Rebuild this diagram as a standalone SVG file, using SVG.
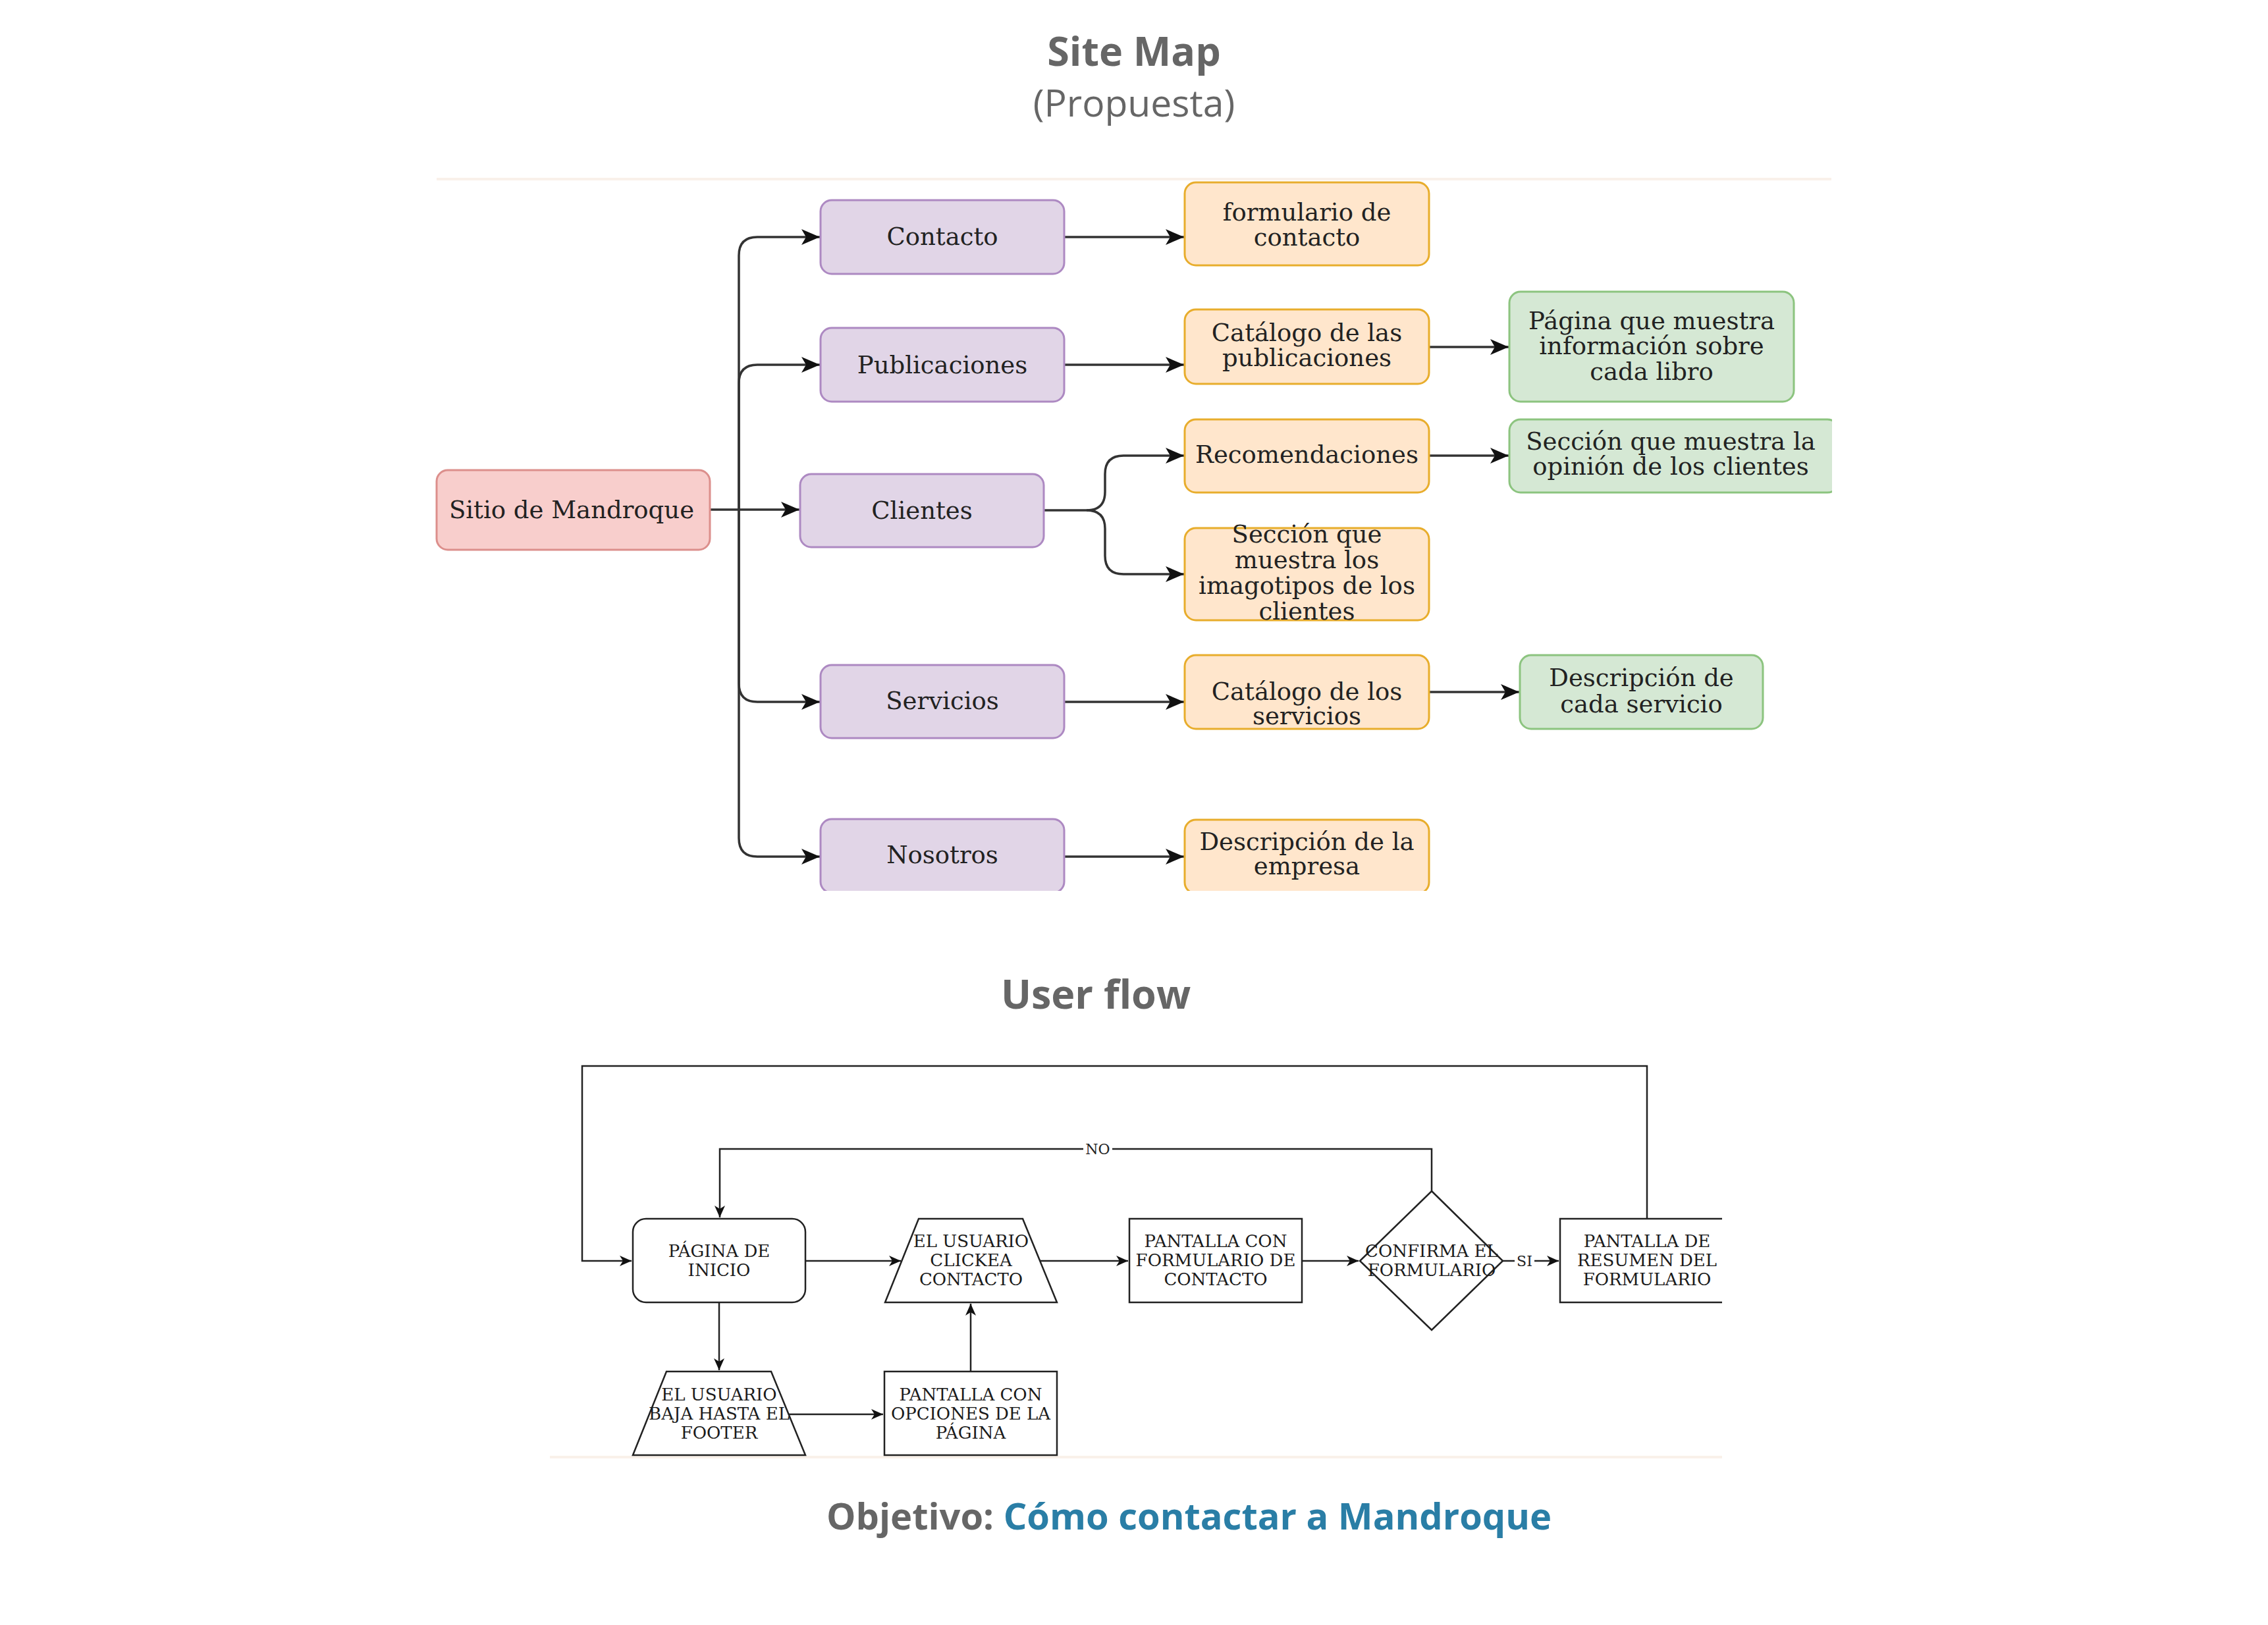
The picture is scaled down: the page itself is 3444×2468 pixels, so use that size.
<svg xmlns="http://www.w3.org/2000/svg" width="3444" height="2468" viewBox="0 0 3444 2468">
<style>
.title{font-family:"Open Sans","Noto Sans",sans-serif;font-weight:700;fill:#666;text-anchor:middle}
.sub{font-family:"Open Sans","Noto Sans",sans-serif;font-weight:400;fill:#666;text-anchor:middle;font-size:57px}
.st{font-family:"DejaVu Serif",serif;font-size:37px;fill:#222;text-anchor:middle}
.ut{font-family:"DejaVu Serif",serif;font-size:26px;fill:#1a1a1a;text-anchor:middle}
.lbl{font-family:"DejaVu Serif",serif;font-size:22px;fill:#222;text-anchor:middle}
.red{fill:#f8cecc;stroke:#dc8f8c;stroke-width:3}
.pur{fill:#e1d5e7;stroke:#ad89c2;stroke-width:3}
.org{fill:#ffe6cc;stroke:#e8ad2c;stroke-width:3}
.grn{fill:#d5e8d4;stroke:#8cc47f;stroke-width:3}
.sc{fill:none;stroke:#333;stroke-width:3.5}
.uf{fill:#fff;stroke:#222;stroke-width:2.5}
.uc{fill:none;stroke:#222;stroke-width:2.5}
.faint{fill:none;stroke:#f9f1ea;stroke-width:4}
</style>
<defs>
<marker id="as" markerUnits="userSpaceOnUse" markerWidth="32" markerHeight="28" viewBox="0 -14 32 28" refX="28" refY="0" orient="auto">
<path d="M0,-12 L28,0 L0,12 L7,0 Z" fill="#111"/>
</marker>
<marker id="au" markerUnits="userSpaceOnUse" markerWidth="22" markerHeight="20" viewBox="0 -10 22 20" refX="18" refY="0" orient="auto">
<path d="M0,-8 L18,0 L0,8 L5,0 Z" fill="#111"/>
</marker>
<clipPath id="clipSite"><rect x="660" y="268" width="2122" height="1085"/></clipPath>
<clipPath id="clipFlow"><rect x="830" y="1600" width="1785" height="613"/></clipPath>
</defs>
<rect width="3444" height="2468" fill="#fff"/>

<g id="titles">
<text class="title" x="1722" y="100" font-size="61">Site Map</text>
<text class="sub" x="1722" y="177">(Propuesta)</text>
<text class="title" x="1664" y="1532" font-size="61">User flow</text>
<text class="title" x="1255" y="2323" font-size="56" text-anchor="start" style="text-anchor:start"><tspan fill="#666">Objetivo: </tspan><tspan fill="#2a7ea6">Cómo contactar a Mandroque</tspan></text>
</g>

<path class="faint" d="M663,272 H2781"/>
<path class="faint" d="M835,2213 H2615"/>

<g id="sitemap" clip-path="url(#clipSite)">
<g id="site-connectors">
<path class="sc" d="M1078,774 H1214" marker-end="url(#as)"/>
<path class="sc" d="M1122,774 V388 Q1122,360 1150,360 H1245" marker-end="url(#as)"/>
<path class="sc" d="M1122,774 V582 Q1122,554 1150,554 H1245" marker-end="url(#as)"/>
<path class="sc" d="M1122,774 V1038 Q1122,1066 1150,1066 H1245" marker-end="url(#as)"/>
<path class="sc" d="M1122,774 V1273 Q1122,1301 1150,1301 H1245" marker-end="url(#as)"/>
<path class="sc" d="M1585,775 H1650 Q1678,775 1678,747 V720 Q1678,692 1706,692 H1798" marker-end="url(#as)"/>
<path class="sc" d="M1650,775 Q1678,775 1678,803 V844 Q1678,872 1706,872 H1798" marker-end="url(#as)"/>
<path class="sc" d="M1616,360 H1798" marker-end="url(#as)"/>
<path class="sc" d="M1616,554 H1798" marker-end="url(#as)"/>
<path class="sc" d="M2170,527 H2291" marker-end="url(#as)"/>
<path class="sc" d="M2170,692 H2291" marker-end="url(#as)"/>
<path class="sc" d="M1616,1066 H1798" marker-end="url(#as)"/>
<path class="sc" d="M2170,1051 H2307" marker-end="url(#as)"/>
<path class="sc" d="M1616,1301 H1798" marker-end="url(#as)"/>
</g>

<g id="n-sitio"><rect class="red" x="663" y="714" width="415" height="121" rx="17"/><text class="st" x="868" y="787">Sitio de Mandroque</text></g>
<g id="n-contacto"><rect class="pur" x="1246" y="304" width="370" height="112" rx="17"/><text class="st" x="1431" y="372">Contacto</text></g>
<g id="n-publicaciones"><rect class="pur" x="1246" y="498" width="370" height="112" rx="17"/><text class="st" x="1431" y="567">Publicaciones</text></g>
<g id="n-clientes"><rect class="pur" x="1215" y="720" width="370" height="111" rx="17"/><text class="st" x="1400" y="788">Clientes</text></g>
<g id="n-servicios"><rect class="pur" x="1246" y="1010" width="370" height="111" rx="17"/><text class="st" x="1431" y="1077">Servicios</text></g>
<g id="n-nosotros"><rect class="pur" x="1246" y="1244" width="370" height="112" rx="17"/><text class="st" x="1431" y="1311">Nosotros</text></g>

<g id="n-formulario"><rect class="org" x="1799" y="277" width="371" height="126" rx="17"/><text class="st" x="1984.5" y="335">formulario de</text><text class="st" x="1984.5" y="373">contacto</text></g>
<g id="n-catalogo-pub"><rect class="org" x="1799" y="470" width="371" height="113" rx="17"/><text class="st" x="1984.5" y="518">Catálogo de las</text><text class="st" x="1984.5" y="556">publicaciones</text></g>
<g id="n-recomendaciones"><rect class="org" x="1799" y="637" width="371" height="111" rx="17"/><text class="st" x="1984.5" y="703">Recomendaciones</text></g>
<g id="n-imagotipos"><rect class="org" x="1799" y="802" width="371" height="140" rx="17"/><text class="st" x="1984.5" y="824">Sección que</text><text class="st" x="1984.5" y="863">muestra los</text><text class="st" x="1984.5" y="902">imagotipos de los</text><text class="st" x="1984.5" y="941">clientes</text></g>
<g id="n-catalogo-serv"><rect class="org" x="1799" y="995" width="371" height="112" rx="17"/><text class="st" x="1984.5" y="1063">Catálogo de los</text><text class="st" x="1984.5" y="1100">servicios</text></g>
<g id="n-desc-empresa"><rect class="org" x="1799" y="1245" width="371" height="112" rx="17"/><text class="st" x="1984.5" y="1291">Descripción de la</text><text class="st" x="1984.5" y="1328">empresa</text></g>

<g id="n-pagina-libro"><rect class="grn" x="2292" y="443" width="432" height="167" rx="17"/><text class="st" x="2508" y="500">Página que muestra</text><text class="st" x="2508" y="538">información sobre</text><text class="st" x="2508" y="577">cada libro</text></g>
<g id="n-opinion"><rect class="grn" x="2292" y="637" width="500" height="111" rx="17"/><text class="st" x="2537" y="683">Sección que muestra la</text><text class="st" x="2537" y="721">opinión de los clientes</text></g>
<g id="n-desc-servicio"><rect class="grn" x="2308" y="995" width="369" height="112" rx="17"/><text class="st" x="2492.5" y="1042">Descripción de</text><text class="st" x="2492.5" y="1082">cada servicio</text></g>
</g>

<g id="userflow" clip-path="url(#clipFlow)">
<g id="flow-connectors">
<path class="uc" d="M2501,1851 V1619 H884 V1915 H959" marker-end="url(#au)"/>
<path class="uc" d="M2174,1809 V1745 H1093 V1849" marker-end="url(#au)"/>
<path class="uc" d="M1223,1915 H1368" marker-end="url(#au)"/>
<path class="uc" d="M1579,1915 H1713" marker-end="url(#au)"/>
<path class="uc" d="M1977,1915 H2063" marker-end="url(#au)"/>
<path class="uc" d="M2282,1915 H2367" marker-end="url(#au)"/>
<path class="uc" d="M1092,1978 V2081" marker-end="url(#au)"/>
<path class="uc" d="M1197,2148 H1341" marker-end="url(#au)"/>
<path class="uc" d="M1474,2083 V1980" marker-end="url(#au)"/>
<rect x="1645" y="1733" width="44" height="24" fill="#fff"/>
<text class="lbl" x="1667" y="1753">NO</text>
<rect x="2300" y="1903" width="30" height="24" fill="#fff"/>
<text class="lbl" x="2315" y="1923">SI</text>
</g>

<g id="u-inicio"><rect class="uf" x="961" y="1851" width="262" height="127" rx="20"/><text class="ut" x="1092" y="1909">PÁGINA DE</text><text class="ut" x="1092" y="1938">INICIO</text></g>
<g id="u-clickea"><polygon class="uf" points="1395,1851 1553,1851 1605,1978 1344,1978"/><text class="ut" x="1474.5" y="1894">EL USUARIO</text><text class="ut" x="1474.5" y="1923">CLICKEA</text><text class="ut" x="1474.5" y="1952">CONTACTO</text></g>
<g id="u-formulario"><rect class="uf" x="1715" y="1851" width="262" height="127"/><text class="ut" x="1846" y="1894">PANTALLA CON</text><text class="ut" x="1846" y="1923">FORMULARIO DE</text><text class="ut" x="1846" y="1952">CONTACTO</text></g>
<g id="u-confirma"><polygon class="uf" points="2174,1809 2282,1915 2174,2020 2065,1915"/><text class="ut" x="2174" y="1909">CONFIRMA EL</text><text class="ut" x="2174" y="1938">FORMULARIO</text></g>
<g id="u-resumen"><rect class="uf" x="2369" y="1851" width="264" height="127"/><text class="ut" x="2501" y="1894">PANTALLA DE</text><text class="ut" x="2501" y="1923">RESUMEN DEL</text><text class="ut" x="2501" y="1952">FORMULARIO</text></g>
<g id="u-baja"><polygon class="uf" points="1012,2083 1171,2083 1223,2210 961,2210"/><text class="ut" x="1092" y="2127">EL USUARIO</text><text class="ut" x="1092" y="2156">BAJA HASTA EL</text><text class="ut" x="1092" y="2185">FOOTER</text></g>
<g id="u-opciones"><rect class="uf" x="1343" y="2083" width="262" height="127"/><text class="ut" x="1474" y="2127">PANTALLA CON</text><text class="ut" x="1474" y="2156">OPCIONES DE LA</text><text class="ut" x="1474" y="2185">PÁGINA</text></g>
</g>
</svg>
